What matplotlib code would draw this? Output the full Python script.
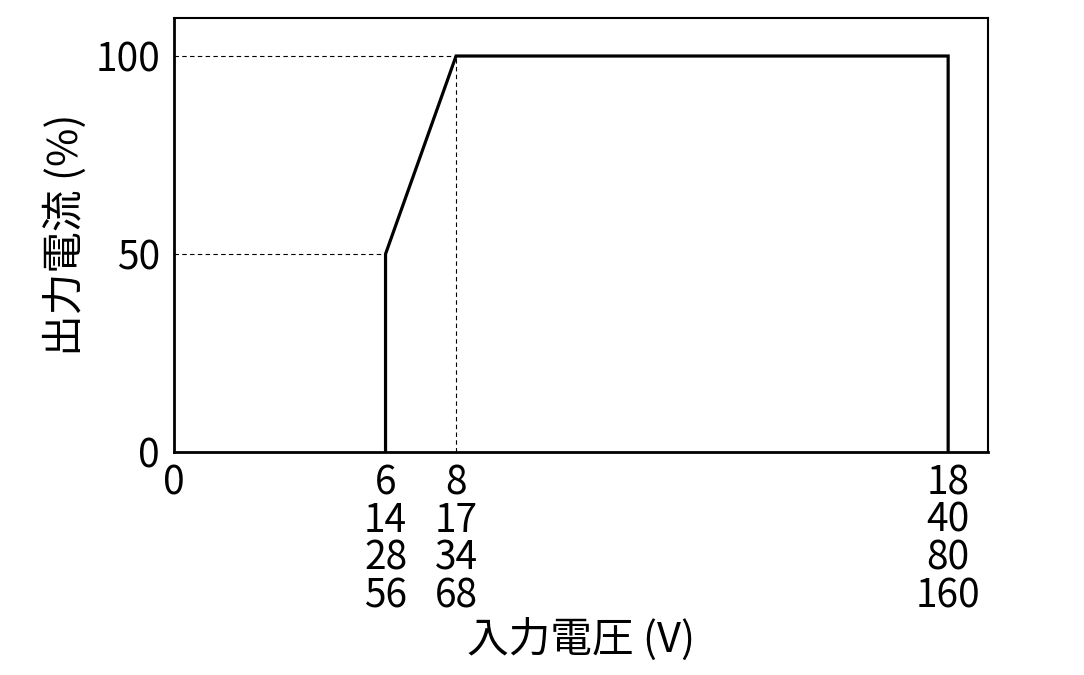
import numpy as np
import matplotlib
matplotlib.use('Agg')
import matplotlib.pyplot as plt

plt.rcParams['font.family'] = ['Noto Sans CJK JP', 'DejaVu Sans']

# --- データ ---
volt = [6, 6, 8, 18, 18]          # 入力電圧 (12Vモデル基準)
current = [0, 50, 100, 100, 0]    # 出力電流 (%)

tick_v = [0, 6, 8, 18]
tick_labels = ['0', '6\n14\n28\n56', '8\n17\n34\n68', '18\n40\n80\n160']

# x軸は 0-8V と 8-18V で目盛間隔が違う (模式図)
brk = [-100, 0, 8, 18, 118]
pos = [-3525, 0, 282, 774, 5694]


def fwd(x):
    return np.interp(x, brk, pos)


def inv(p):
    return np.interp(p, pos, brk)


fig = plt.figure(figsize=(10.84, 6.75), dpi=100)
ax = fig.add_axes([174 / 1084, 1 - 452 / 675, (988 - 174) / 1084, (452 - 18) / 675])

ax.set_xscale('function', functions=(fwd, inv))
ax.set_xlim(0, 18.81)
ax.set_ylim(0, 109.6)

# 補助線 (点線)
dash = dict(color='black', lw=0.8, linestyle=(0, (4, 3)))
ax.plot([0, 8], [100, 100], **dash)
ax.plot([8, 8], [0, 100], **dash)
ax.plot([0, 6], [50, 50], **dash)

ax.plot(volt, current, color='black', lw=2.3, solid_joinstyle='miter')

ax.set_xticks(tick_v)
ax.set_xticklabels(tick_labels, fontsize=28, linespacing=0.93)
ax.set_yticks([0, 50, 100])
ax.set_yticklabels(['0', '50', '100'], fontsize=28)
ax.tick_params(axis='x', length=0, pad=8)
ax.tick_params(axis='y', length=0, pad=10)

ax.set_xlabel('入力電圧 (V)', fontsize=30, labelpad=1)
ax.set_ylabel('出力電流 (%)', fontsize=30, labelpad=6)

for side in ['left', 'bottom']:
    ax.spines[side].set_linewidth(2.0)
for side in ['top', 'right']:
    ax.spines[side].set_linewidth(1.5)

plt.savefig('out.png', dpi=100)
